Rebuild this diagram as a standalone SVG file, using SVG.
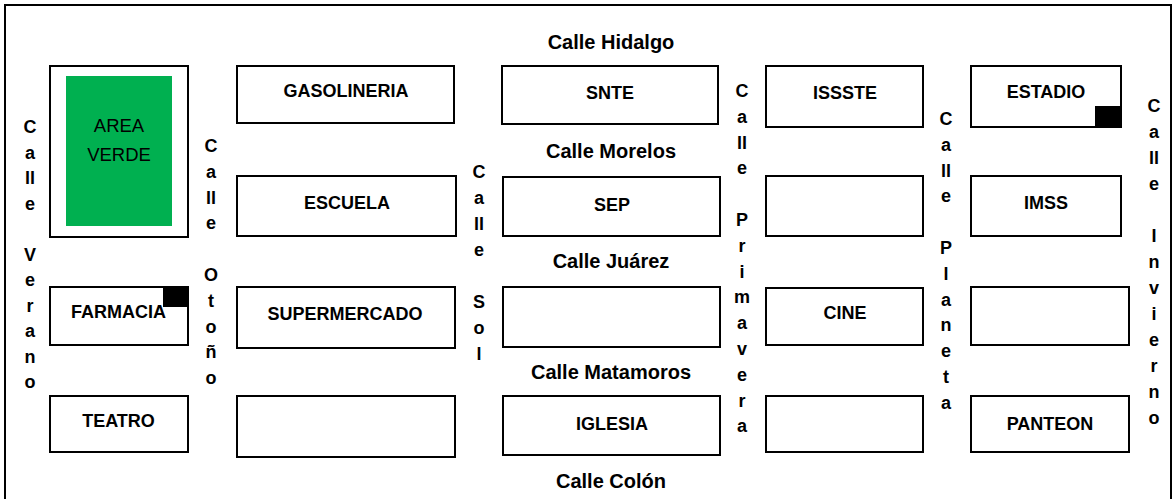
<svg xmlns="http://www.w3.org/2000/svg" width="1173" height="499" viewBox="0 0 1173 499">
<style>
.blk{fill:#fff;stroke:#000;stroke-width:2}
.lbl{font-family:"Liberation Sans",Arial,sans-serif;font-weight:bold;font-size:18px;fill:#000;text-anchor:middle}
.st{font-family:"Liberation Sans",Arial,sans-serif;font-weight:bold;font-size:20px;fill:#000;text-anchor:middle}
.vt{font-family:"Liberation Sans",Arial,sans-serif;font-weight:bold;font-size:18px;fill:#000;text-anchor:middle}
.mark{fill:#000}
</style>
<rect x="0" y="0" width="1173" height="499" fill="#fff"/>
<rect x="5" y="5" width="1166" height="500" fill="none" stroke="#000" stroke-width="2"/>

<g id="connectors"></g>

<g id="streets">
<text class="st" x="611" y="49">Calle Hidalgo</text>
<text class="st" x="611" y="158">Calle Morelos</text>
<text class="st" x="611" y="268">Calle Juárez</text>
<text class="st" x="611" y="379">Calle Matamoros</text>
<text class="st" x="611" y="488">Calle Colón</text>
<text class="vt" id="verano"><tspan x="30" y="133">C</tspan><tspan x="30" y="158.5">a</tspan><tspan x="30" y="184">ll</tspan><tspan x="30" y="209.5">e</tspan><tspan x="30" y="260.5">V</tspan><tspan x="30" y="286">e</tspan><tspan x="30" y="311.5">r</tspan><tspan x="30" y="337">a</tspan><tspan x="30" y="362.5">n</tspan><tspan x="30" y="388">o</tspan></text>
<text class="vt" id="otono"><tspan x="211" y="152">C</tspan><tspan x="211" y="177.8">a</tspan><tspan x="211" y="203.6">ll</tspan><tspan x="211" y="229.4">e</tspan><tspan x="211" y="281">O</tspan><tspan x="211" y="306.8">t</tspan><tspan x="211" y="332.6">o</tspan><tspan x="211" y="358.4">ñ</tspan><tspan x="211" y="384.2">o</tspan></text>
<text class="vt" id="sol"><tspan x="479" y="178">C</tspan><tspan x="479" y="204">a</tspan><tspan x="479" y="230">ll</tspan><tspan x="479" y="256">e</tspan><tspan x="479" y="308">S</tspan><tspan x="479" y="334">o</tspan><tspan x="479" y="360">l</tspan></text>
<text class="vt" id="primavera"><tspan x="742" y="97">C</tspan><tspan x="742" y="122.8">a</tspan><tspan x="742" y="148.6">ll</tspan><tspan x="742" y="174.4">e</tspan><tspan x="742" y="226">P</tspan><tspan x="742" y="251.8">r</tspan><tspan x="742" y="277.6">i</tspan><tspan x="742" y="303.4">m</tspan><tspan x="742" y="329.2">a</tspan><tspan x="742" y="355">v</tspan><tspan x="742" y="380.8">e</tspan><tspan x="742" y="406.6">r</tspan><tspan x="742" y="432.4">a</tspan></text>
<text class="vt" id="planeta"><tspan x="946" y="125">C</tspan><tspan x="946" y="150.8">a</tspan><tspan x="946" y="176.6">ll</tspan><tspan x="946" y="202.4">e</tspan><tspan x="946" y="254">P</tspan><tspan x="946" y="279.8">l</tspan><tspan x="946" y="305.6">a</tspan><tspan x="946" y="331.4">n</tspan><tspan x="946" y="357.2">e</tspan><tspan x="946" y="383">t</tspan><tspan x="946" y="408.8">a</tspan></text>
<text class="vt" id="invierno"><tspan x="1154" y="112">C</tspan><tspan x="1154" y="138">a</tspan><tspan x="1154" y="164">ll</tspan><tspan x="1154" y="190">e</tspan><tspan x="1154" y="242">I</tspan><tspan x="1154" y="268">n</tspan><tspan x="1154" y="294">v</tspan><tspan x="1154" y="320">i</tspan><tspan x="1154" y="346">e</tspan><tspan x="1154" y="372">r</tspan><tspan x="1154" y="398">n</tspan><tspan x="1154" y="424">o</tspan></text>
</g>

<g id="area-verde">
<rect class="blk" x="50" y="66" width="138" height="171"/>
<rect x="66" y="76" width="106" height="150" fill="#00B050"/>
<text x="119" y="132" font-family="Liberation Sans, Arial, sans-serif" font-size="18.5" text-anchor="middle" fill="#000">AREA</text>
<text x="119" y="161" font-family="Liberation Sans, Arial, sans-serif" font-size="18.5" text-anchor="middle" fill="#000">VERDE</text>
</g>
<g id="farmacia">
<rect class="blk" x="50" y="287" width="138" height="58"/>
<text class="lbl" x="118.5" y="318" font-size="17.5">FARMACIA</text>
<rect class="mark" x="163" y="287" width="25" height="20"/>
</g>
<g id="teatro">
<rect class="blk" x="50" y="396" width="138" height="56"/>
<text class="lbl" x="118.5" y="427" font-size="17.5">TEATRO</text>
</g>

<g id="gasolineria">
<rect class="blk" x="237" y="66" width="217" height="57"/>
<text class="lbl" x="346" y="97" font-size="17.5">GASOLINERIA</text>
</g>
<g id="escuela">
<rect class="blk" x="237" y="176" width="219" height="60"/>
<text class="lbl" x="347" y="209" font-size="18.5">ESCUELA</text>
</g>
<g id="supermercado">
<rect class="blk" x="237" y="287" width="218" height="61"/>
<text class="lbl" x="345" y="320" font-size="19">SUPERMERCADO</text>
</g>
<g id="empty-c2r4">
<rect class="blk" x="237" y="396" width="218" height="61"/>
</g>

<g id="snte">
<rect class="blk" x="502" y="66" width="216" height="58"/>
<text class="lbl" x="610" y="99" font-size="18.5">SNTE</text>
</g>
<g id="sep">
<rect class="blk" x="503" y="177" width="217" height="59"/>
<text class="lbl" x="612" y="211" font-size="18.5">SEP</text>
</g>
<g id="empty-c3r3">
<rect class="blk" x="503" y="287" width="217" height="60"/>
</g>
<g id="iglesia">
<rect class="blk" x="503" y="396" width="217" height="59"/>
<text class="lbl" x="612" y="430" font-size="18.5">IGLESIA</text>
</g>

<g id="issste">
<rect class="blk" x="766" y="66" width="157" height="61"/>
<text class="lbl" x="845" y="99" font-size="17.5">ISSSTE</text>
</g>
<g id="empty-c4r2">
<rect class="blk" x="766" y="176" width="157" height="60"/>
</g>
<g id="cine">
<rect class="blk" x="766" y="288" width="157" height="57"/>
<text class="lbl" x="845" y="319">CINE</text>
</g>
<g id="empty-c4r4">
<rect class="blk" x="766" y="396" width="157" height="56"/>
</g>

<g id="estadio">
<rect class="blk" x="971" y="66" width="150" height="61"/>
<text class="lbl" x="1046" y="98" font-size="19">ESTADIO</text>
<rect class="mark" x="1095" y="106" width="26" height="21"/>
</g>
<g id="imss">
<rect class="blk" x="971" y="176" width="150" height="60"/>
<text class="lbl" x="1046" y="209" font-size="18.5">IMSS</text>
</g>
<g id="empty-c5r3">
<rect class="blk" x="971" y="287" width="158" height="58"/>
</g>
<g id="panteon">
<rect class="blk" x="971" y="396" width="158" height="56"/>
<text class="lbl" x="1050" y="430" font-size="19.5">PANTEON</text>
</g>
</svg>
